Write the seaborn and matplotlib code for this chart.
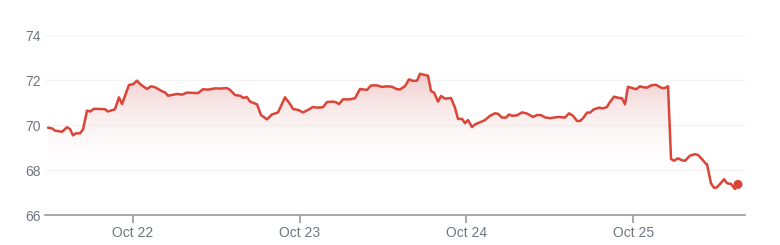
import numpy as np
import pandas as pd
import matplotlib
matplotlib.use("Agg")
import matplotlib.pyplot as plt
import matplotlib.dates as mdates
from matplotlib.colors import LinearSegmentedColormap
import seaborn as sns

# hours since 2024-10-21 00:00
hours = [11.76, 12.34, 12.77, 13.78, 14.50, 14.93, 15.36, 15.79, 16.37, 16.80,
         17.38, 17.81, 18.39, 19.54, 19.97, 20.40, 21.41, 21.98, 22.42, 23.42,
         24.00, 24.58, 25.01, 26.02, 26.59, 27.17, 28.18, 28.61, 29.04, 30.34,
         31.06, 31.77, 33.36, 34.08, 34.80, 35.81, 36.53, 37.53, 37.97, 38.69,
         39.42, 39.84, 40.41, 40.85, 41.85, 42.43, 43.29, 44.01, 44.88, 45.88,
         46.46, 47.04, 47.76, 48.47, 49.19, 49.91, 50.49, 51.35, 51.93, 52.79,
         53.23, 53.66, 54.23, 55.24, 55.96, 56.68, 57.69, 58.26, 59.13, 59.85,
         60.57, 61.29, 62.01, 62.44, 63.16, 63.74, 64.31, 64.89, 65.32, 65.75,
         66.47, 66.90, 67.34, 67.91, 68.34, 68.92, 69.78, 70.36, 70.79, 71.37,
         71.80, 72.23, 72.81, 73.24, 73.96, 74.68, 75.40, 76.12, 76.55, 77.12,
         77.70, 78.13, 78.56, 79.28, 80.00, 80.72, 81.59, 82.16, 82.74, 83.32,
         84.03, 85.19, 86.19, 86.77, 87.35, 87.92, 88.36, 88.79, 89.36, 89.80,
         90.37, 91.09, 91.67, 92.24, 92.53, 93.25, 93.83, 94.40, 94.83, 95.26,
         95.98, 96.42, 96.99, 97.43, 98.00, 98.58, 99.30, 100.02, 100.45, 101.03,
         101.46, 101.89, 102.46, 103.04, 103.47, 104.19, 104.91, 105.34, 105.92, 106.49,
         106.64, 107.21, 107.65, 108.08, 108.80, 109.09, 109.52, 110.09, 110.67, 111.10]
prices = [69.88, 69.85, 69.75, 69.70, 69.90, 69.82, 69.54, 69.63, 69.63, 69.80,
          70.64, 70.60, 70.72, 70.71, 70.70, 70.60, 70.70, 71.23, 70.93, 71.78,
          71.81, 71.97, 71.82, 71.60, 71.72, 71.68, 71.50, 71.45, 71.30, 71.38,
          71.35, 71.44, 71.42, 71.59, 71.57, 71.63, 71.62, 71.64, 71.56, 71.33,
          71.30, 71.21, 71.24, 71.04, 70.92, 70.44, 70.25, 70.47, 70.56, 71.23,
          71.00, 70.71, 70.67, 70.56, 70.67, 70.80, 70.77, 70.79, 71.02, 71.04,
          71.01, 70.93, 71.14, 71.14, 71.19, 71.60, 71.56, 71.76, 71.76, 71.69,
          71.72, 71.70, 71.59, 71.58, 71.73, 72.03, 71.96, 71.97, 72.28, 72.24,
          72.19, 71.51, 71.44, 71.04, 71.29, 71.17, 71.20, 70.77, 70.27, 70.27,
          70.08, 70.22, 69.91, 70.03, 70.12, 70.22, 70.41, 70.52, 70.50, 70.33,
          70.33, 70.47, 70.41, 70.43, 70.56, 70.51, 70.36, 70.44, 70.44, 70.34,
          70.30, 70.36, 70.33, 70.52, 70.41, 70.18, 70.18, 70.30, 70.55, 70.55,
          70.70, 70.77, 70.74, 70.80, 70.96, 71.26, 71.21, 71.19, 70.92, 71.70,
          71.63, 71.59, 71.72, 71.68, 71.66, 71.76, 71.79, 71.66, 71.63, 71.72,
          68.49, 68.41, 68.52, 68.43, 68.41, 68.64, 68.70, 68.67, 68.48, 68.27,
          68.26, 67.41, 67.21, 67.23, 67.48, 67.59, 67.41, 67.38, 67.16, 67.36]
y_ticks = [66, 68, 70, 72, 74]

base = pd.Timestamp("2024-10-21")
df = pd.DataFrame({"time": base + pd.to_timedelta(hours, unit="h"), "price": prices})

sns.set_theme(style="white")
plt.rcParams['font.family'] = ['Liberation Sans', 'DejaVu Sans']

RED = "#db4437"
fig = plt.figure(figsize=(7.8, 2.45), dpi=100)
ax = fig.add_axes([45/780, 1 - 215/245, 700/780, 180/245])

x0 = base + pd.Timedelta(hours=11.33)
x1 = base + pd.Timedelta(hours=112.11)
ax.set_xlim(x0, x1)
ax.set_ylim(66, 74)

# gradient fill under the line
poly = ax.fill_between(df["time"], df["price"], 67.5, color="none", lw=0)
cmap = LinearSegmentedColormap.from_list("g", [(1, 1, 1, 0), (0.91, 0.66, 0.66, 0.62)])
grad = np.linspace(0, 1, 256).reshape(-1, 1)
grad = np.clip((grad * (74 - 66) + 66 - 67.8) / (72.4 - 67.8), 0, 1)
img = ax.imshow(grad, cmap=cmap, aspect="auto", origin="lower",
                extent=[mdates.date2num(x0), mdates.date2num(x1), 66, 74],
                zorder=1, vmin=0, vmax=1)
img.set_clip_path(poly.get_paths()[0], transform=ax.transData)

sns.lineplot(data=df, x="time", y="price", color=RED, lw=1.8, ax=ax, zorder=3)
last = df.iloc[[-1]]
sns.scatterplot(data=last, x="time", y="price", color=RED, s=42, edgecolor="none",
                ax=ax, zorder=4)

for v in y_ticks[1:]:
    ax.axhline(v, color="#f3f3f3", lw=1, zorder=0.5)

ax.set_yticks(y_ticks)
ax.xaxis.set_major_locator(mdates.DayLocator())
ax.xaxis.set_major_formatter(mdates.DateFormatter("%b %-d"))
ax.set_xlabel("")
ax.set_ylabel("")
for s in ["top", "right", "left"]:
    ax.spines[s].set_visible(False)
ax.spines["bottom"].set_color("#9a9a9a")
ax.spines["bottom"].set_linewidth(1.2)
ax.tick_params(axis="x", length=6, width=1.5, color="#aaaaaa", colors="#6f7580",
               labelsize=10, pad=2, bottom=True)
ax.tick_params(axis="y", length=0, labelcolor="#6f7580", labelsize=10, pad=3)
for t in ax.get_xticklines():
    t.set_color("#aaaaaa")
ax.grid(False)

fig.savefig("out.png", dpi=100)
